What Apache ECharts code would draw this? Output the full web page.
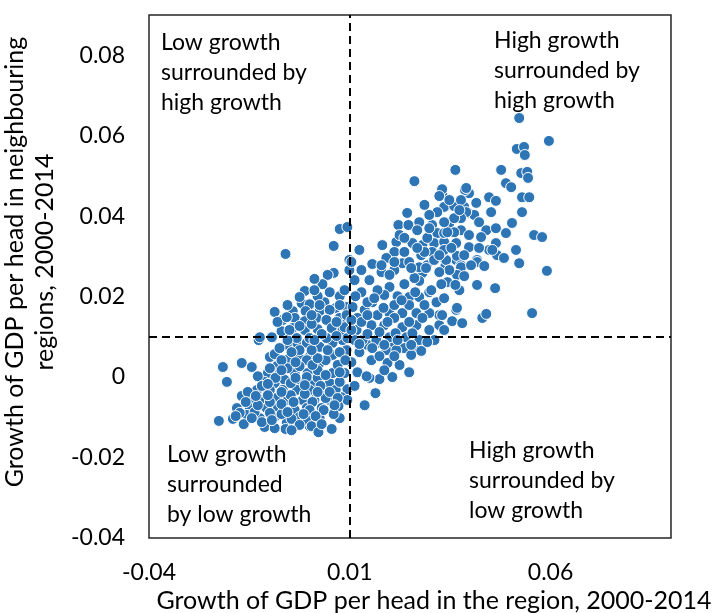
<!DOCTYPE html>
<html><head><meta charset="utf-8">
<script src="https://cdn.jsdelivr.net/npm/echarts@6/dist/echarts.min.js"></script>
<style>html,body{margin:0;padding:0;background:#fff}#c{width:714px;height:613px}</style>
</head><body><div id="c"></div>
<script>
// [growth in region, growth in neighbouring regions]
const lowerLeftCluster = [
[-0.0216,0.0025],[-0.0169,0.0035],[-0.0144,0.0025],[-0.0206,-0.0012],[-0.0226,-0.0109],[-0.0191,-0.0104],
[-0.0127,0.0092],[-0.0099,0.0050],[-0.0087,0.0057],[-0.0082,0.0027],[-0.0050,0.0047],[-0.0025,0.0047],
[0.0000,0.0050],[0.0007,0.0085],[-0.0032,0.0085],[-0.0057,0.0080],[-0.0104,0.0010],[-0.0074,0.0010],
[-0.0037,0.0010],[-0.0005,0.0010],[-0.0112,-0.0012],[-0.0087,-0.0015],[-0.0062,-0.0007],[-0.0025,-0.0015],
[0.0007,-0.0015],[-0.0131,-0.0032],[-0.0099,-0.0032],[-0.0067,-0.0032],[-0.0032,-0.0032],[0.0005,-0.0037],
[-0.0169,-0.0047],[-0.0141,-0.0055],[-0.0117,-0.0057],[-0.0082,-0.0052],[-0.0055,-0.0057],[-0.0017,-0.0057],
[0.0012,-0.0057],[-0.0181,-0.0077],[-0.0149,-0.0077],[-0.0107,-0.0077],[-0.0079,-0.0077],[-0.0037,-0.0082],
[-0.0007,-0.0077],[-0.0156,-0.0094],[-0.0124,-0.0102],[-0.0087,-0.0099],[-0.0057,-0.0114],[-0.0112,-0.0124],
[-0.0060,-0.0129],[0.0000,-0.0122],[-0.0025,-0.0099],[-0.0174,-0.0089],[-0.0007,0.0085],[0.0025,0.0075],
[0.0057,0.0055],[0.0092,0.0067],[-0.0007,0.0042],[0.0025,0.0035],[-0.0007,0.0000],[0.0020,-0.0002],
[0.0050,-0.0015],[0.0000,-0.0032],[0.0032,-0.0037],[0.0007,-0.0062],[0.0050,-0.0057],[0.0000,-0.0082],
[0.0030,-0.0077],[-0.0007,-0.0107],[0.0005,-0.0122],[0.0055,-0.0129],[0.0094,-0.0030],[0.0079,-0.0050],
[0.0072,-0.0072],[0.0057,0.0010],[0.0087,0.0010],
[-0.0129,0.0002],[-0.0154,-0.0037],
[-0.0164,-0.0117],[-0.0137,-0.0087],[-0.0099,-0.0089],[-0.0070,-0.0092],[-0.0045,-0.0104],
[-0.0025,-0.0119],[0.0025,-0.0102],[0.0040,-0.0052],[0.0065,-0.0032],[0.0027,-0.0022],[-0.0012,-0.0042],
[-0.0047,-0.0045],[-0.0070,-0.0067],[-0.0099,-0.0062],[-0.0129,-0.0070],[-0.0119,-0.0022],[-0.0085,-0.0002],
[-0.0047,-0.0015],[-0.0012,-0.0020],[0.0020,0.0017],[0.0040,0.0005],[0.0075,-0.0012],[0.0070,0.0030],
[0.0040,0.0042],[0.0007,0.0030],[-0.0025,0.0027],[-0.0055,0.0022],
[-0.0075,0.0072],[-0.0025,0.0067],[0.0075,0.0062],[0.0082,0.0092],[0.0057,0.0085],
[-0.0045,-0.0132],[-0.0087,-0.0127],[0.0022,-0.0137],[0.0075,-0.0102],
[0.0094,-0.0057],[0.0112,-0.0022],[0.0119,0.0012],[0.0104,0.0037],
[-0.0159,-0.0062],[-0.0134,-0.0047],[-0.0104,-0.0045],[-0.0070,-0.0037],[-0.0040,-0.0062],[0.0020,-0.0037],
[0.0050,-0.0037],[0.0070,-0.0052],[0.0035,-0.0082],[0.0060,-0.0092],[0.0015,-0.0097],[-0.0015,-0.0092],
[-0.0055,-0.0087],[-0.0119,-0.0112],[-0.0094,-0.0107],[-0.0144,-0.0102],[-0.0184,-0.0097],[-0.0104,-0.0017],
[-0.0035,-0.0002],[0.0020,0.0047],[0.0045,0.0067],[0.0005,0.0067],[-0.0045,0.0062],[-0.0070,0.0042],
[-0.0099,0.0022],[-0.0070,0.0017],[-0.0035,0.0037],[0.0075,0.0012],[0.0089,0.0042],[0.0062,-0.0070],
[0.0030,-0.0117]
];
const middleBand = [
[0.0124,0.0062],[0.0144,0.0080],[0.0174,0.0085],[0.0206,0.0087],[0.0241,0.0075],[0.0266,0.0067],
[0.0154,0.0042],[0.0194,0.0035],[0.0248,0.0012],[0.0206,0.0000],[0.0174,-0.0005],[0.0149,-0.0002],
[0.0142,0.0002],[0.0164,-0.0040],[0.0137,-0.0070],
[-0.0060,0.0306],[0.0060,0.0326],[0.0099,0.0291],[0.0099,0.0266],[0.0060,0.0259],[0.0045,0.0254],
[0.0032,0.0231],[0.0012,0.0244],[-0.0012,0.0214],[-0.0087,0.0162],[-0.0020,0.0184],[0.0000,0.0181],
[0.0037,0.0186],[0.0065,0.0172],[0.0092,0.0174],[-0.0042,0.0164],[-0.0010,0.0164],[0.0025,0.0164],
[0.0050,0.0167],[-0.0067,0.0142],[-0.0037,0.0147],[-0.0012,0.0139],[0.0017,0.0147],[0.0042,0.0142],
[0.0075,0.0147],[0.0094,0.0137],[-0.0070,0.0114],[-0.0042,0.0122],[-0.0012,0.0117],[0.0020,0.0119],
[0.0055,0.0122],[0.0082,0.0117],[-0.0124,0.0099],[-0.0094,0.0099],[-0.0032,0.0097],[0.0000,0.0097],
[0.0042,0.0097],
[0.0104,0.0286],[0.0156,0.0281],[0.0179,0.0261],[0.0231,0.0283],[0.0281,0.0259],[0.0293,0.0278],
[0.0338,0.0276],[0.0365,0.0291],[0.0199,0.0224],[0.0236,0.0231],[0.0273,0.0239],[0.0298,0.0211],
[0.0129,0.0211],[0.0156,0.0186],[0.0186,0.0204],[0.0219,0.0201],[0.0248,0.0199],[0.0273,0.0199],
[0.0365,0.0167],[0.0355,0.0139],[0.0323,0.0154],[0.0298,0.0159],[0.0266,0.0159],[0.0231,0.0159],
[0.0199,0.0159],[0.0169,0.0154],[0.0137,0.0167],[0.0107,0.0174],[0.0092,0.0154],[0.0119,0.0147],
[0.0154,0.0129],[0.0186,0.0129],[0.0231,0.0124],[0.0266,0.0129],[0.0298,0.0117],[0.0087,0.0124],
[0.0117,0.0117],[0.0094,0.0097],[0.0132,0.0092],[0.0166,0.0092],[0.0199,0.0099],[0.0241,0.0099],
[0.0273,0.0092],[0.0156,0.0072],[0.0191,0.0067],[0.0236,0.0072],[0.0278,0.0065],
[-0.0055,0.0179],[-0.0025,0.0199],[0.0020,0.0201],[0.0075,0.0201],
[0.0012,0.0216],[-0.0055,0.0092],[-0.0080,0.0137],[-0.0025,0.0127],[0.0005,0.0132],[0.0067,0.0137],
[0.0030,0.0107],[0.0067,0.0102],[-0.0057,0.0149],[0.0005,0.0154],
[0.0114,0.0201],[0.0144,0.0186],[0.0169,0.0216],[0.0211,0.0179],[0.0248,0.0179],[0.0286,0.0179],
[0.0316,0.0186],[0.0129,0.0137],[0.0211,0.0147],[0.0248,0.0137],[0.0281,0.0147],[0.0323,0.0129],
[0.0174,0.0112],[0.0214,0.0109],[0.0256,0.0109],[0.0216,0.0067],[0.0253,0.0055],[0.0174,0.0052],
[0.0112,0.0092],[0.0311,0.0092],[0.0335,0.0117],[0.0224,0.0030],[0.0186,0.0017],
[0.0104,0.0117],[0.0144,0.0107],[0.0124,0.0082],[0.0186,0.0080],[0.0219,0.0092],[0.0253,0.0080],
[0.0293,0.0087],[0.0211,0.0052],[0.0104,0.0142],[0.0144,0.0154],[0.0184,0.0172],[0.0229,0.0191],
[0.0263,0.0211],[0.0303,0.0216],[0.0335,0.0196],[0.0343,0.0236],[0.0194,0.0137],[0.0161,0.0196],
[0.0087,0.0216],[0.0050,0.0211],[0.0112,0.0241],[0.0075,0.0179],[0.0025,0.0179],[-0.0050,0.0117],
[0.0012,0.0092]
];
const upperRightCluster = [
[0.0261,0.0487],[0.0363,0.0515],[0.0330,0.0457],[0.0397,0.0457],[0.0387,0.0465],[0.0447,0.0447],
[0.0464,0.0438],[0.0335,0.0423],[0.0318,0.0410],[0.0360,0.0425],[0.0385,0.0423],[0.0395,0.0408],
[0.0410,0.0403],[0.0452,0.0410],[0.0243,0.0408],[0.0221,0.0378],[0.0246,0.0378],[0.0273,0.0385],
[0.0305,0.0378],[0.0348,0.0383],[0.0377,0.0365],[0.0440,0.0365],[0.0464,0.0370],[0.0268,0.0365],
[0.0318,0.0358],[0.0360,0.0360],[0.0397,0.0353],[0.0427,0.0348],[0.0181,0.0328],[0.0216,0.0336],
[0.0256,0.0333],[0.0281,0.0328],[0.0310,0.0333],[0.0335,0.0336],[0.0360,0.0328],[0.0397,0.0323],
[0.0447,0.0316],[0.0211,0.0311],[0.0236,0.0311],[0.0278,0.0303],[0.0305,0.0311],[0.0330,0.0298],
[0.0367,0.0301],[0.0467,0.0303],[0.0191,0.0296],[0.0273,0.0273],[0.0310,0.0291],[0.0340,0.0291],
[0.0377,0.0278],[0.0417,0.0291],[0.0179,0.0278],[0.0290,0.0271],
[0.0522,0.0644],[0.0596,0.0587],[0.0516,0.0567],[0.0534,0.0572],[0.0536,0.0552],[0.0477,0.0515],
[0.0527,0.0507],[0.0542,0.0510],[0.0544,0.0495],[0.0489,0.0482],[0.0502,0.0472],[0.0330,0.0467],
[0.0390,0.0470],[0.0529,0.0447],[0.0547,0.0447],[0.0390,0.0410],[0.0529,0.0410],[0.0377,0.0395],
[0.0504,0.0383],[0.0489,0.0358],[0.0559,0.0353],[0.0579,0.0348],[0.0335,0.0358],[0.0365,0.0333],
[0.0464,0.0333],[0.0455,0.0316],[0.0514,0.0316],[0.0484,0.0296],[0.0522,0.0283],[0.0330,0.0311],
[0.0417,0.0286],[0.0435,0.0276],[0.0377,0.0273],[0.0402,0.0278],[0.0367,0.0254],[0.0385,0.0251],
[0.0591,0.0264],[0.0328,0.0231],[0.0373,0.0216],[0.0417,0.0229],[0.0462,0.0221],[0.0367,0.0172],
[0.0430,0.0147],[0.0440,0.0157],[0.0380,0.0134],[0.0330,0.0154],[0.0554,0.0159],
[0.0293,0.0346],[0.0343,0.0360],[0.0298,0.0403],[0.0360,0.0395],[0.0286,0.0311],[0.0248,0.0286],
[0.0211,0.0266],[0.0348,0.0266],[0.0261,0.0246],[0.0335,0.0316],[0.0422,0.0321],[0.0377,0.0440],
[0.0415,0.0433],[0.0323,0.0450],[0.0224,0.0353],[0.0199,0.0254],[0.0149,0.0241],[0.0129,0.0266],
[0.0124,0.0316],[0.0075,0.0368],[0.0094,0.0373],
[0.0236,0.0346],[0.0268,0.0321],[0.0323,0.0303],[0.0353,0.0321],[0.0385,0.0303],[0.0298,0.0370],
[0.0335,0.0385],[0.0373,0.0415],[0.0422,0.0385],[0.0348,0.0440],[0.0286,0.0428],[0.0253,0.0271],
[0.0211,0.0286],[0.0323,0.0261],[0.0363,0.0229]
];
const xTicks = [-0.04, 0.01, 0.06];
const yTicks = [-0.04, -0.02, 0, 0.02, 0.04, 0.06, 0.08];
const dividerX = 0.01, dividerY = 0.01;
const quadrantLabels = [
  {text: 'Low growth\nsurrounded by\nhigh growth', left: 161, top: 28},
  {text: 'High growth\nsurrounded by\nhigh growth', left: 494, top: 26},
  {text: 'Low growth\nsurrounded\nby low growth', left: 167, top: 440},
  {text: 'High growth\nsurrounded by\nlow growth', left: 469, top: 436}
];

const FONT = 'Lato';
const fmt = v => v === 0 ? '0' : v.toFixed(2);
const chart = echarts.init(document.getElementById('c'), null, {renderer: 'canvas'});
chart.setOption({
  animation: false,
  textStyle: {fontFamily: FONT},
  grid: {left: 149, top: 15, width: 522, height: 523, containLabel: false, outerBoundsMode: 'none',
         show: true, borderColor: '#262626', borderWidth: 1.5, backgroundColor: 'transparent'},
  xAxis: {
    type: 'value', min: -0.04, max: 0.09,
    axisLine: {show: false}, axisTick: {show: false}, splitLine: {show: false},
    axisLabel: {customValues: xTicks, formatter: fmt, fontSize: 23, color: '#000', fontFamily: FONT, margin: 23},
    name: 'Growth of GDP per head in the region, 2000-2014', nameLocation: 'middle', nameGap: 48,
    nameTextStyle: {fontSize: 25, color: '#000', fontFamily: FONT, padding: [0, 0, 0, 48]}
  },
  yAxis: {
    type: 'value', min: -0.04, max: 0.09,
    axisLine: {show: false}, axisTick: {show: false}, splitLine: {show: false},
    axisLabel: {customValues: yTicks, formatter: fmt, fontSize: 23, color: '#000', fontFamily: FONT, margin: 24},
    name: 'Growth of GDP per head in neighbouring\nregions, 2000-2014', nameLocation: 'middle', nameGap: 72,
    nameTextStyle: {fontSize: 25, color: '#000', fontFamily: FONT, lineHeight: 30, padding: [0, 0, 0, 29]}
  },
  graphic: quadrantLabels.map(q => ({
    type: 'text', left: q.left, top: q.top, z: 10,
    style: {text: q.text, font: '23px ' + FONT, fill: '#000', lineHeight: 30}
  })),
  series: [{
    type: 'scatter',
    data: lowerLeftCluster.concat(middleBand, upperRightCluster),
    symbolSize: 11,
    itemStyle: {color: '#2E75B6', borderColor: '#fff', borderWidth: 1, opacity: 1},
    markLine: {
      silent: true, symbol: 'none', label: {show: false},
      lineStyle: {color: '#000', type: [8, 5], width: 2},
      data: [{xAxis: dividerX}, {yAxis: dividerY}]
    }
  }]
});
</script></body></html>
